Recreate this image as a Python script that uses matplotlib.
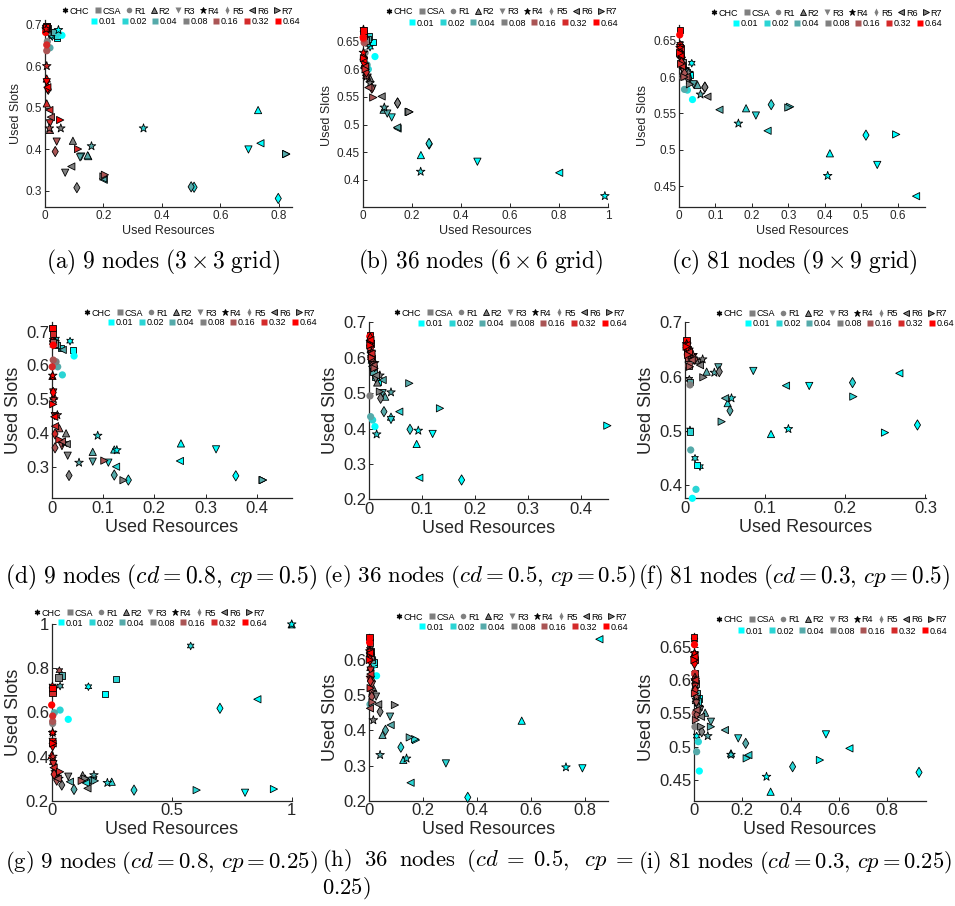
import matplotlib
matplotlib.use("Agg")
import matplotlib.pyplot as plt
from matplotlib.lines import Line2D

plt.rcParams["font.family"] = ["Liberation Sans", "DejaVu Sans"]
plt.rcParams["mathtext.fontset"] = "cm"

W, H = 955, 906

methods = ["CHC", "CSA", "R1", "R2", "R3", "R4", "R5", "R6", "R7"]
loads = ["0.01", "0.02", "0.04", "0.08", "0.16", "0.32", "0.64"]
load_colors = ["#00ffff", "#2ad4d4", "#55aaaa", "#808080", "#aa5555", "#d42a2a", "#ff0000"]
markers = {"CHC": (6, 1, 0), "CSA": "s", "R1": "o", "R2": "^", "R3": "v",
           "R4": "*", "R5": "d", "R6": "<", "R7": ">"}

# each list holds one point per load, in the order of `loads`
# (a) 9 nodes, 3x3 grid
a_x = {
    "CHC": [0.025, 0.022, 0.015, 0.008, 0.004, 0.003, 0.002],
    "CSA": [0.042, 0.040, 0.030, 0.010, 0.006, 0.005, 0.004],
    "R1": [0.058, 0.045, 0.017, 0.008, 0.006, 0.006, 0.002],
    "R2": [0.729, 0.148, 0.146, 0.0955, 0.017, 0.006, 0.006],
    "R3": [0.696, 0.124, 0.120, 0.069, 0.040, 0.017, 0.006],
    "R4": [0.046, 0.337, 0.159, 0.054, 0.015, 0.006, 0.004],
    "R5": [0.798, 0.510, 0.500, 0.109, 0.035, 0.011, 0.009],
    "R6": [0.737, 0.201, 0.199, 0.090, 0.020, 0.015, 0.008],
    "R7": [0.825, 0.825, 0.825, 0.200, 0.205, 0.113, 0.052],
}
a_y = {
    "CHC": [0.672, 0.675, 0.680, 0.685, 0.690, 0.692, 0.695],
    "CSA": [0.668, 0.675, 0.683, 0.692, 0.696, 0.698, 0.694],
    "R1": [0.675, 0.680, 0.645, 0.660, 0.638, 0.652, 0.682],
    "R2": [0.495, 0.384, 0.386, 0.421, 0.447, 0.511, 0.571],
    "R3": [0.400, 0.383, 0.381, 0.344, 0.419, 0.463, 0.562],
    "R4": [0.688, 0.451, 0.408, 0.451, 0.451, 0.601, 0.690],
    "R5": [0.282, 0.309, 0.310, 0.308, 0.395, 0.545, 0.548],
    "R6": [0.415, 0.327, 0.330, 0.359, 0.478, 0.495, 0.550],
    "R7": [0.389, 0.389, 0.389, 0.335, 0.339, 0.401, 0.471],
}

# (b) 36 nodes, 6x6 grid
b_x = {
    "CHC": [0.030, 0.025, 0.020, 0.012, 0.007, 0.004, 0.003],
    "CSA": [0.043, 0.025, 0.020, 0.012, 0.006, 0.004, 0.003],
    "R1": [0.050, 0.023, 0.018, 0.010, 0.006, 0.003, 0.002],
    "R2": [0.237, 0.088, 0.085, 0.030, 0.015, 0.008, 0.004],
    "R3": [0.467, 0.118, 0.100, 0.040, 0.020, 0.010, 0.005],
    "R4": [0.986, 0.236, 0.088, 0.030, 0.016, 0.008, 0.003],
    "R5": [0.271, 0.270, 0.142, 0.142, 0.037, 0.015, 0.006],
    "R6": [0.800, 0.142, 0.140, 0.077, 0.023, 0.010, 0.003],
    "R7": [0.190, 0.188, 0.187, 0.190, 0.043, 0.012, 0.005],
}
b_y = {
    "CHC": [0.640, 0.645, 0.650, 0.655, 0.660, 0.665, 0.672],
    "CSA": [0.649, 0.659, 0.655, 0.652, 0.660, 0.665, 0.670],
    "R1": [0.623, 0.600, 0.608, 0.630, 0.648, 0.655, 0.658],
    "R2": [0.445, 0.529, 0.527, 0.584, 0.590, 0.610, 0.625],
    "R3": [0.433, 0.513, 0.520, 0.565, 0.585, 0.600, 0.615],
    "R4": [0.371, 0.415, 0.531, 0.575, 0.587, 0.600, 0.630],
    "R5": [0.465, 0.466, 0.539, 0.539, 0.566, 0.595, 0.612],
    "R6": [0.413, 0.493, 0.495, 0.551, 0.567, 0.605, 0.617],
    "R7": [0.523, 0.523, 0.523, 0.523, 0.549, 0.600, 0.620],
}

# (c) 81 nodes, 9x9 grid
c_x = {
    "CHC": [0.035, 0.030, 0.020, 0.012, 0.008, 0.004, 0.003],
    "CSA": [0.030, 0.022, 0.015, 0.010, 0.006, 0.004, 0.002],
    "R1": [0.037, 0.023, 0.015, 0.010, 0.006, 0.003, 0.002],
    "R2": [0.414, 0.184, 0.051, 0.030, 0.012, 0.006, 0.003],
    "R3": [0.544, 0.211, 0.040, 0.025, 0.012, 0.005, 0.003],
    "R4": [0.408, 0.163, 0.059, 0.026, 0.012, 0.006, 0.003],
    "R5": [0.513, 0.253, 0.071, 0.071, 0.015, 0.007, 0.003],
    "R6": [0.6505, 0.243, 0.111, 0.078, 0.020, 0.008, 0.004],
    "R7": [0.596, 0.305, 0.300, 0.030, 0.015, 0.006, 0.003],
}
c_y = {
    "CHC": [0.619, 0.605, 0.610, 0.615, 0.625, 0.635, 0.645],
    "CSA": [0.603, 0.607, 0.610, 0.620, 0.630, 0.640, 0.665],
    "R1": [0.569, 0.582, 0.583, 0.600, 0.620, 0.640, 0.658],
    "R2": [0.495, 0.557, 0.589, 0.596, 0.605, 0.620, 0.635],
    "R3": [0.479, 0.547, 0.590, 0.595, 0.608, 0.625, 0.640],
    "R4": [0.464, 0.536, 0.576, 0.606, 0.610, 0.625, 0.640],
    "R5": [0.520, 0.562, 0.586, 0.586, 0.605, 0.620, 0.632],
    "R6": [0.436, 0.526, 0.555, 0.573, 0.600, 0.615, 0.630],
    "R7": [0.521, 0.559, 0.558, 0.590, 0.600, 0.618, 0.633],
}

# (d) 9 nodes, cd = 0.8, cp = 0.5
d_x = {
    "CHC": [0.0358, 0.0085, 0.006, 0.004, 0.003, 0.002, 0.002],
    "CSA": [0.041, 0.018, 0.010, 0.006, 0.003, 0.002, 0.0015],
    "R1": [0.0436, 0.0208, 0.0117, 0.0085, 0.003, 0.001, 0.003],
    "R2": [0.252, 0.122, 0.080, 0.028, 0.015, 0.004, 0.0015],
    "R3": [0.3205, 0.1105, 0.080, 0.0312, 0.020, 0.006, 0.003],
    "R4": [0.127, 0.0897, 0.0533, 0.025, 0.011, 0.004, 0.002],
    "R5": [0.359, 0.1495, 0.122, 0.0338, 0.0065, 0.0065, 0.003],
    "R6": [0.250, 0.1255, 0.0215, 0.0293, 0.020, 0.0065, 0.005],
    "R7": [0.4116, 0.4116, 0.4116, 0.140, 0.1027, 0.015, 0.003],
}
d_y = {
    "CHC": [0.672, 0.678, 0.670, 0.665, 0.660, 0.668, 0.675],
    "CSA": [0.646, 0.652, 0.660, 0.665, 0.670, 0.695, 0.710],
    "R1": [0.628, 0.572, 0.596, 0.611, 0.616, 0.596, 0.660],
    "R2": [0.369, 0.351, 0.344, 0.399, 0.414, 0.510, 0.569],
    "R3": [0.3514, 0.312, 0.315, 0.3326, 0.361, 0.450, 0.520],
    "R4": [0.349, 0.392, 0.312, 0.370, 0.453, 0.500, 0.570],
    "R5": [0.273, 0.2605, 0.2753, 0.274, 0.356, 0.397, 0.520],
    "R6": [0.317, 0.300, 0.646, 0.367, 0.375, 0.420, 0.448],
    "R7": [0.2605, 0.2605, 0.2605, 0.260, 0.318, 0.380, 0.485],
}

# (e) 36 nodes, cd = 0.5, cp = 0.5
e_x = {
    "CHC": [0.005, 0.004, 0.003, 0.003, 0.002, 0.002, 0.001],
    "CSA": [0.017, 0.012, 0.008, 0.006, 0.004, 0.002, 0.001],
    "R1": [0.0107, 0.0063, 0.0025, 0.0013, 0.003, 0.002, 0.001],
    "R2": [0.0895, 0.041, 0.030, 0.015, 0.008, 0.004, 0.002],
    "R3": [0.1197, 0.041, 0.025, 0.012, 0.007, 0.004, 0.002],
    "R4": [0.0926, 0.0139, 0.041, 0.020, 0.010, 0.004, 0.002],
    "R5": [0.1745, 0.0769, 0.0277, 0.0214, 0.010, 0.005, 0.002],
    "R6": [0.0945, 0.0567, 0.0252, 0.0126, 0.008, 0.004, 0.002],
    "R7": [0.450, 0.1336, 0.0756, 0.020, 0.010, 0.005, 0.002],
}
e_y = {
    "CHC": [0.580, 0.590, 0.600, 0.610, 0.620, 0.630, 0.640],
    "CSA": [0.532, 0.545, 0.560, 0.580, 0.600, 0.640, 0.665],
    "R1": [0.4053, 0.424, 0.4335, 0.492, 0.600, 0.630, 0.660],
    "R2": [0.3563, 0.4335, 0.490, 0.530, 0.575, 0.610, 0.640],
    "R3": [0.3846, 0.4241, 0.500, 0.540, 0.580, 0.610, 0.640],
    "R4": [0.394, 0.3836, 0.5023, 0.550, 0.585, 0.615, 0.645],
    "R5": [0.2546, 0.3977, 0.4476, 0.4853, 0.575, 0.610, 0.655],
    "R6": [0.261, 0.4476, 0.537, 0.550, 0.578, 0.612, 0.650],
    "R7": [0.408, 0.457, 0.5277, 0.504, 0.570, 0.600, 0.635],
}

# (f) 81 nodes, cd = 0.3, cp = 0.5
f_x = {
    "CHC": [0.0187, 0.0125, 0.0062, 0.0054, 0.004, 0.003, 0.002],
    "CSA": [0.0146, 0.0062, 0.006, 0.005, 0.004, 0.003, 0.002],
    "R1": [0.0091, 0.0137, 0.0071, 0.0062, 0.005, 0.003, 0.002],
    "R2": [0.1073, 0.0532, 0.027, 0.015, 0.008, 0.004, 0.002],
    "R3": [0.155, 0.0852, 0.0416, 0.020, 0.010, 0.005, 0.003],
    "R4": [0.129, 0.058, 0.0366, 0.022, 0.010, 0.005, 0.002],
    "R5": [0.290, 0.209, 0.0561, 0.0428, 0.012, 0.006, 0.003],
    "R6": [0.2674, 0.126, 0.050, 0.0187, 0.0083, 0.005, 0.002],
    "R7": [0.2495, 0.210, 0.0457, 0.0229, 0.0062, 0.004, 0.002],
}
f_y = {
    "CHC": [0.4339, 0.4492, 0.5015, 0.5949, 0.630, 0.645, 0.660],
    "CSA": [0.437, 0.4985, 0.590, 0.620, 0.635, 0.650, 0.667],
    "R1": [0.3755, 0.392, 0.4646, 0.5845, 0.620, 0.640, 0.660],
    "R2": [0.494, 0.551, 0.609, 0.630, 0.640, 0.650, 0.660],
    "R3": [0.5826, 0.6103, 0.617, 0.625, 0.635, 0.645, 0.655],
    "R4": [0.5033, 0.560, 0.6072, 0.6318, 0.640, 0.650, 0.660],
    "R5": [0.5107, 0.5888, 0.537, 0.609, 0.632, 0.645, 0.655],
    "R6": [0.606, 0.5832, 0.560, 0.621, 0.6305, 0.645, 0.658],
    "R7": [0.4966, 0.563, 0.5168, 0.5986, 0.618, 0.640, 0.655],
}

# (g) 9 nodes, cd = 0.8, cp = 0.25
g_x = {
    "CHC": [0.153, 0.579, 0.035, 0.006, 0.032, 0.004, 0.003],
    "CSA": [0.222, 0.268, 0.044, 0.028, 0.006, 0.004, 0.004],
    "R1": [0.069, 0.035, 0.011, 0.004, 0.004, 0.004, 0.000],
    "R2": [1.000, 0.250, 0.140, 0.129, 0.020, 0.006, 0.000],
    "R3": [0.8056, 0.174, 0.160, 0.069, 0.020, 0.007, 0.004],
    "R4": [1.000, 0.232, 0.176, 0.030, 0.015, 0.005, 0.004],
    "R5": [0.701, 0.343, 0.093, 0.042, 0.021, 0.010, 0.004],
    "R6": [0.857, 0.143, 0.076, 0.149, 0.025, 0.008, 0.004],
    "R7": [0.926, 0.604, 0.180, 0.140, 0.125, 0.035, 0.006],
}
g_y = {
    "CHC": [0.717, 0.9017, 0.720, 0.700, 0.790, 0.508, 0.720],
    "CSA": [0.684, 0.752, 0.767, 0.759, 0.700, 0.687, 0.710],
    "R1": [0.569, 0.611, 0.599, 0.550, 0.560, 0.584, 0.634],
    "R2": [1.000, 0.286, 0.300, 0.316, 0.330, 0.380, 0.407],
    "R3": [0.236, 0.293, 0.290, 0.309, 0.300, 0.366, 0.467],
    "R4": [1.000, 0.281, 0.316, 0.300, 0.330, 0.400, 0.508],
    "R5": [0.619, 0.248, 0.251, 0.271, 0.293, 0.320, 0.450],
    "R6": [0.660, 0.280, 0.286, 0.256, 0.300, 0.350, 0.460],
    "R7": [0.2527, 0.248, 0.290, 0.300, 0.290, 0.331, 0.460],
}

# (h) 36 nodes, cd = 0.5, cp = 0.25
h_x = {
    "CHC": [0.012, 0.010, 0.008, 0.006, 0.004, 0.003, 0.002],
    "CSA": [0.017, 0.015, 0.010, 0.006, 0.004, 0.002, 0.001],
    "R1": [0.027, 0.010, 0.0025, 0.004, 0.003, 0.002, 0.001],
    "R2": [0.565, 0.126, 0.049, 0.015, 0.008, 0.004, 0.002],
    "R3": [0.790, 0.284, 0.077, 0.025, 0.010, 0.005, 0.002],
    "R4": [0.729, 0.138, 0.040, 0.015, 0.008, 0.004, 0.002],
    "R5": [0.365, 0.117, 0.060, 0.040, 0.009, 0.004, 0.002],
    "R6": [0.853, 0.153, 0.079, 0.033, 0.0025, 0.004, 0.002],
    "R7": [0.173, 0.170, 0.150, 0.095, 0.012, 0.005, 0.002],
}
h_y = {
    "CHC": [0.600, 0.605, 0.610, 0.615, 0.620, 0.625, 0.630],
    "CSA": [0.590, 0.595, 0.600, 0.610, 0.625, 0.650, 0.665],
    "R1": [0.555, 0.580, 0.474, 0.520, 0.550, 0.600, 0.650],
    "R2": [0.4275, 0.316, 0.387, 0.520, 0.550, 0.580, 0.620],
    "R3": [0.292, 0.306, 0.439, 0.496, 0.530, 0.570, 0.610],
    "R4": [0.295, 0.320, 0.330, 0.429, 0.510, 0.550, 0.625],
    "R5": [0.2095, 0.352, 0.400, 0.453, 0.496, 0.540, 0.600],
    "R6": [0.659, 0.251, 0.415, 0.474, 0.4625, 0.560, 0.620],
    "R7": [0.3725, 0.375, 0.380, 0.472, 0.480, 0.520, 0.600],
}

# (i) 81 nodes, cd = 0.3, cp = 0.25
i_x = {
    "CHC": [0.011, 0.008, 0.006, 0.005, 0.004, 0.003, 0.002],
    "CSA": [0.018, 0.015, 0.010, 0.006, 0.004, 0.002, 0.001],
    "R1": [0.022, 0.018, 0.011, 0.004, 0.005, 0.003, 0.002],
    "R2": [0.317, 0.153, 0.046, 0.020, 0.008, 0.004, 0.002],
    "R3": [0.546, 0.183, 0.070, 0.025, 0.010, 0.005, 0.002],
    "R4": [0.300, 0.153, 0.057, 0.020, 0.010, 0.005, 0.002],
    "R5": [0.931, 0.408, 0.214, 0.032, 0.012, 0.005, 0.002],
    "R6": [0.643, 0.225, 0.128, 0.029, 0.010, 0.005, 0.002],
    "R7": [0.521, 0.218, 0.070, 0.030, 0.008, 0.004, 0.002],
}
i_y = {
    "CHC": [0.516, 0.550, 0.570, 0.590, 0.610, 0.640, 0.660],
    "CSA": [0.5725, 0.568, 0.580, 0.595, 0.610, 0.630, 0.665],
    "R1": [0.4635, 0.5075, 0.4925, 0.530, 0.550, 0.610, 0.653],
    "R2": [0.4325, 0.490, 0.551, 0.560, 0.570, 0.605, 0.640],
    "R3": [0.5185, 0.5125, 0.5375, 0.555, 0.565, 0.590, 0.630],
    "R4": [0.455, 0.488, 0.516, 0.560, 0.575, 0.600, 0.640],
    "R5": [0.4615, 0.470, 0.505, 0.5225, 0.548, 0.585, 0.625],
    "R6": [0.4975, 0.4875, 0.525, 0.545, 0.555, 0.600, 0.635],
    "R7": [0.480, 0.4825, 0.530, 0.530, 0.540, 0.580, 0.630],
}

captions = {
    "a": r"$\mathrm{(a)\ 9\ nodes\ (3\times3\ grid)}$",
    "b": r"$\mathrm{(b)\ 36\ nodes\ (6\times6\ grid)}$",
    "c": r"$\mathrm{(c)\ 81\ nodes\ (9\times9\ grid)}$",
    "d": r"$\mathrm{(d)\ 9\ nodes\ (}cd=0.8,\,cp=0.5\mathrm{)}$",
    "e": r"$\mathrm{(e)\ 36\ nodes\ (}cd=0.5,\,cp=0.5\mathrm{)}$",
    "f": r"$\mathrm{(f)\ 81\ nodes\ (}cd=0.3,\,cp=0.5\mathrm{)}$",
    "g": r"$\mathrm{(g)\ 9\ nodes\ (}cd=0.8,\,cp=0.25\mathrm{)}$",
    "h": r"$\mathrm{(h)\ \;36\ \;nodes\ \;(}cd\;=\;0.5,\ \;cp\;=$",
    "i": r"$\mathrm{(i)\ 81\ nodes\ (}cd=0.3,\,cp=0.25\mathrm{)}$",
}

# layout in pixels: box = (left, right, top, bottom); legend rows given by right edge and
# centre y; caption given as (left, right, y) -- row one is centred, the rest are fitted
layout = [
    dict(k="a", xs=a_x, ys=a_y, box=(45, 292, 20, 207), xlim=(0, 0.845), ylim=(0.2614, 0.712),
         xt=[0, 0.2, 0.4, 0.6, 0.8], yt=[0.3, 0.4, 0.5, 0.6, 0.7], big=False,
         leg=((293, 11), (300, 22)), cap=(46, 280, 262)),
    dict(k="b", xs=b_x, ys=b_y, box=(362.7, 608.3, 25, 207), xlim=(0, 1), ylim=(0.3512, 0.680),
         xt=[0, 0.2, 0.4, 0.6, 0.8, 1], yt=[0.4, 0.45, 0.5, 0.55, 0.6, 0.65], big=False,
         leg=((617, 12), (618, 23)), cap=(358, 603, 262)),
    dict(k="c", xs=c_x, ys=c_y, box=(679, 925, 25, 207), xlim=(0, 0.675), ylim=(0.4211, 0.6716),
         xt=[0, 0.1, 0.2, 0.3, 0.4, 0.5, 0.6], yt=[0.45, 0.5, 0.55, 0.6, 0.65], big=False,
         leg=((942, 13), (942, 24)), cap=(668, 920, 262)),
    dict(k="d", xs=d_x, ys=d_y, box=(51.7, 291.7, 322, 498.3), xlim=(0, 0.468), ylim=(0.2064, 0.7287),
         xt=[0, 0.1, 0.2, 0.3, 0.4], yt=[0.3, 0.4, 0.5, 0.6, 0.7], big=True,
         leg=((315, 313), (317, 323)), cap=(5, 320, 577)),
    dict(k="e", xs=e_x, ys=e_y, box=(369.3, 608.3, 322.3, 499.3), xlim=(0, 0.4518), ylim=(0.2, 0.7),
         xt=[0, 0.1, 0.2, 0.3, 0.4], yt=[0.2, 0.3, 0.4, 0.5, 0.6, 0.7], big=True,
         leg=((625, 313), (627, 324)), cap=(323, 636, 577)),
    dict(k="f", xs=f_x, ys=f_y, box=(685, 925.7, 322.3, 498.3), xlim=(0, 0.3003), ylim=(0.3755, 0.7),
         xt=[0, 0.1, 0.2, 0.3], yt=[0.4, 0.5, 0.6, 0.7], big=True,
         leg=((947, 314), (954, 324)), cap=(638, 950, 577)),
    dict(k="g", xs=g_x, ys=g_y, box=(51.7, 291.7, 624.3, 800.7), xlim=(0, 1), ylim=(0.2, 1.0),
         xt=[0, 0.5, 1], yt=[0.2, 0.4, 0.6, 0.8, 1], big=True,
         leg=((265, 613), (267, 623)), cap=(5, 318, 862)),
    dict(k="h", xs=h_x, ys=h_y, box=(369.3, 608.3, 633.6, 800.7), xlim=(0, 0.886), ylim=(0.2, 0.675),
         xt=[0, 0.2, 0.4, 0.6, 0.8], yt=[0.2, 0.3, 0.4, 0.5, 0.6], big=True,
         leg=((627, 617), (628, 627)), cap=(322, 634, 861)),
    dict(k="i", xs=i_x, ys=i_y, box=(694, 925.7, 633.4, 800.7), xlim=(0, 0.9587), ylim=(0.419, 0.67),
         xt=[0, 0.2, 0.4, 0.6, 0.8], yt=[0.45, 0.5, 0.55, 0.6, 0.65], big=True,
         leg=((947, 620), (947, 631)), cap=(638, 952, 862)),
]

AX_COLOR = "#262626"
CAP_FS = 17
legend_edge = {"CHC": "k", "CSA": "none", "R1": "none", "R2": "k", "R3": "none",
               "R4": "k", "R5": "none", "R6": "k", "R7": "k"}


def fmt(v):
    return "%g" % v


fig = plt.figure(figsize=(W / 100, H / 100), dpi=100)
renderer = fig.canvas.get_renderer()


def caption(text, left, right, y, centre):
    # place a caption, shrinking it if it would run past its column
    if centre:
        t = fig.text((left + right) / 2 / W, 1 - y / H, text, ha="center", va="center",
                     fontsize=CAP_FS)
    else:
        t = fig.text(left / W, 1 - y / H, text, ha="left", va="center", fontsize=CAP_FS)
    w = t.get_window_extent(renderer).width
    if w > right - left:
        t.set_fontsize(CAP_FS * (right - left) / w)
    return t


for p in layout:
    L, R, T, B = p["box"]
    ax = fig.add_axes([L / W, 1 - B / H, (R - L) / W, (B - T) / H])
    for m in methods:
        edge = "none" if m == "R1" else "k"
        size = {"R4": 42, "CSA": 21, "CHC": 30}.get(m, 27)
        ax.scatter(p["xs"][m], p["ys"][m], c=load_colors, marker=markers[m],
                   s=size, edgecolors=edge, linewidths=0.6, clip_on=False, zorder=3)
    ax.set_xlim(*p["xlim"])
    ax.set_ylim(*p["ylim"])
    ax.set_xticks(p["xt"])
    ax.set_xticklabels([fmt(v) for v in p["xt"]])
    ax.set_yticks(p["yt"])
    ax.set_yticklabels([fmt(v) for v in p["yt"]])
    for side in ("top", "right"):
        ax.spines[side].set_visible(False)
    for side in ("left", "bottom"):
        ax.spines[side].set_color(AX_COLOR)
        ax.spines[side].set_linewidth(0.9)
    tick_fs = 12 if p["big"] else 8.5
    lab_fs = 13 if p["big"] else 9
    ax.tick_params(direction="in", length=3, width=0.7, colors=AX_COLOR,
                   labelsize=tick_fs, pad=2)
    ax.set_xlabel("Used Resources", fontsize=lab_fs, color=AX_COLOR, labelpad=2)
    ax.set_ylabel("Used Slots", fontsize=lab_fs, color=AX_COLOR, labelpad=3)

    # two-row legend: methods, then loads
    h_methods = [Line2D([], [], ls="none", marker=markers[m], ms=4.8 if m == "R4" else 4.0,
                        mfc="k" if m in ("CHC", "R4") else "#808080",
                        mec=legend_edge[m], mew=0.6) for m in methods]
    h_loads = [Line2D([], [], ls="none", marker="s", ms=4.2, mfc=c, mec="none")
               for c in load_colors]
    (x1, y1), (x2, y2) = p["leg"]
    kw = dict(frameon=False, fontsize=6.5, handlelength=0.75, handletextpad=0.15,
              columnspacing=0.55, borderpad=0, borderaxespad=0, loc="center right",
              bbox_transform=fig.transFigure)
    l1 = ax.legend(h_methods, methods, ncol=9, bbox_to_anchor=(x1 / W, 1 - y1 / H), **kw)
    ax.add_artist(l1)
    ax.legend(h_loads, loads, ncol=7, bbox_to_anchor=(x2 / W, 1 - y2 / H), **kw)

    cl, cr, cy = p["cap"]
    cap = caption(captions[p["k"]], cl, cr, cy, centre=not p["big"])
    if p["k"] == "h":
        # the long caption wraps onto a second line
        fig.text(cl / W, 1 - 888 / H, r"$\mathrm{0.25)}$", ha="left", va="center",
                 fontsize=cap.get_fontsize())

fig.savefig("out.png", dpi=100)
